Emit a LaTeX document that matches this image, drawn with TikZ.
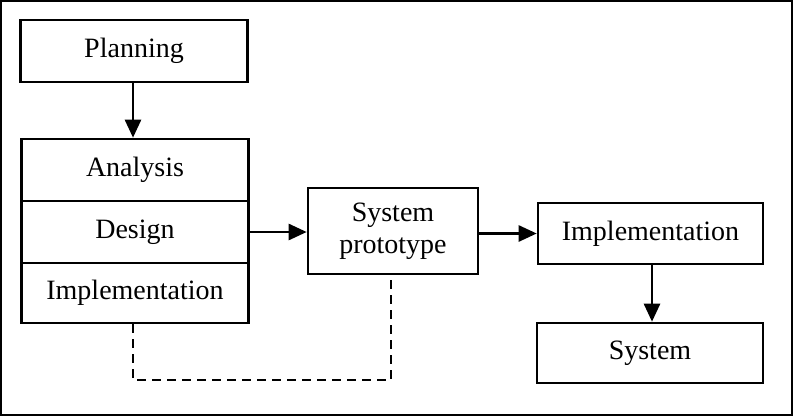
\documentclass[tikz,border=0pt]{standalone}
\usepackage{fontspec}
\setmainfont{Liberation Serif}
\usetikzlibrary{arrows.meta,calc}
\begin{document}
\begin{tikzpicture}[x=1pt,y=-1pt,
  box/.style={draw=black,line width=2.6pt,rectangle,inner sep=0pt,
    font=\fontsize{28}{32}\selectfont,align=center},
  flow/.style={line width=2.6pt,-{Triangle[length=18pt,width=16pt]}},
  link/.style={line width=2.6pt,dash pattern=on 9pt off 6pt}]
\useasboundingbox (0,0) rectangle (793,416);
\draw[line width=1.8pt] (1,1) rectangle (792,415);
\node[box,minimum width=227pt,minimum height=62pt] (plan) at (134,51) {Planning};
\node[box,minimum width=227pt,minimum height=62pt] (ana) at (135,170) {Analysis};
\node[box,minimum width=227pt,minimum height=62pt] (des) at (135,232) {Design};
\node[box,minimum width=227pt,minimum height=60pt] (imp1) at (135,293) {Implementation};
\node[box,minimum width=170pt,minimum height=86pt] (proto) at (393,231) {System\\prototype};
\node[box,minimum width=225pt,minimum height=61pt] (imp2) at (650.5,233.5) {Implementation};
\node[box,minimum width=226pt,minimum height=60pt] (sys) at (650,353) {System};
\draw[flow] (plan.south -| 133,0) -- (ana.north -| 133,0);
\draw[flow] (des.east) -- (des.east -| proto.west);
\draw[flow] (proto.east |- imp2.west) -- (imp2.west);
\draw[flow] (imp2.south -| 652,0) -- (sys.north -| 652,0);
\coordinate (dl) at (133,380);
\coordinate (dr) at (391,380);
\draw[link] (imp1.south -| dl) -- (dl) -- (dr) -- (dr |- proto.south);
\end{tikzpicture}
\end{document}
